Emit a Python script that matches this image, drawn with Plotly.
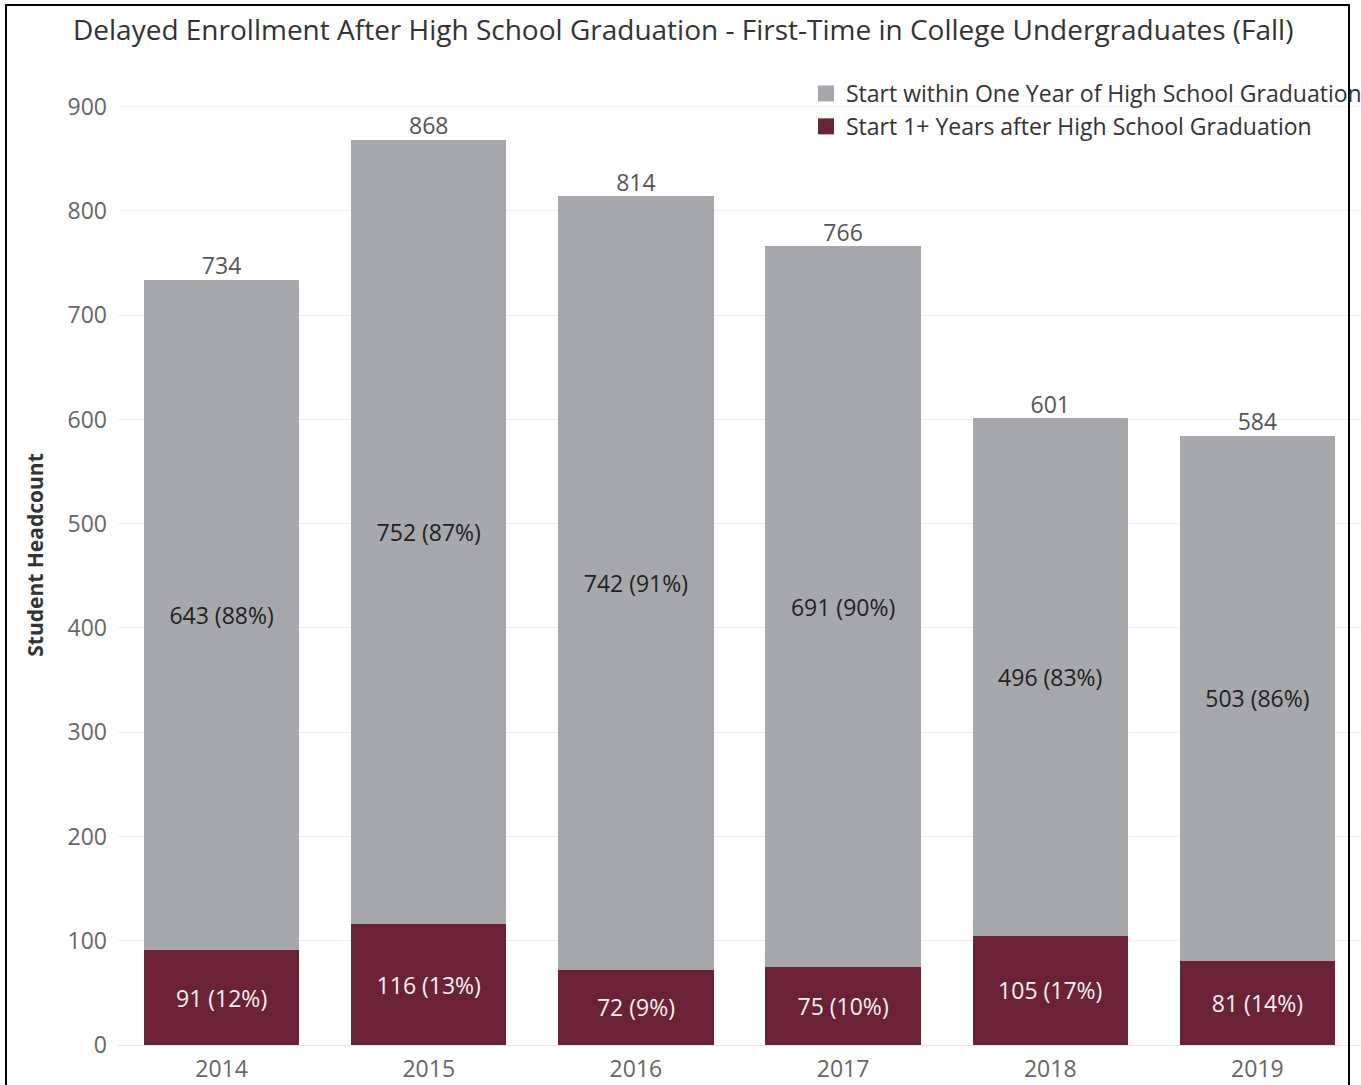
import plotly.graph_objects as go

# ---- data ----
years = ["2014", "2015", "2016", "2017", "2018", "2019"]
within_one_year = [643, 752, 742, 691, 496, 503]
after_one_year = [91, 116, 72, 75, 105, 81]
y_ticks = [0, 100, 200, 300, 400, 500, 600, 700, 800, 900]

title_text = "Delayed Enrollment After High School Graduation - First-Time in College Undergraduates (Fall)"
name_within = "Start within One Year of High School Graduation"
name_after = "Start 1+ Years after High School Graduation"

totals = [a + b for a, b in zip(within_one_year, after_one_year)]
within_labels = [f"{v} ({round(100 * v / t)}%)" for v, t in zip(within_one_year, totals)]
after_labels = [f"{v} ({round(100 * v / t)}%)" for v, t in zip(after_one_year, totals)]

# ---- style ----
FONT = "Open Sans"
GRAY = "#a7a8ab"
MAROON = "#6c2236"
W, H = 1361, 1085
ML, MR, MT, MB = 118, 0, 65, 40

fig = go.Figure()
fig.add_trace(go.Bar(
    x=years, y=after_one_year, name=name_after,
    marker=dict(color=MAROON, line=dict(width=0)),
    text=after_labels, textposition="inside", insidetextanchor="middle",
    textangle=0, constraintext="none",
    insidetextfont=dict(family=FONT, size=23, color="#f2f2f2"),
    hoverinfo="skip", showlegend=False,
))
fig.add_trace(go.Bar(
    x=years, y=within_one_year, name=name_within,
    marker=dict(color=GRAY, line=dict(width=0)),
    text=within_labels, textposition="inside", insidetextanchor="middle",
    textangle=0, constraintext="none",
    insidetextfont=dict(family=FONT, size=23, color="#222222"),
    hoverinfo="skip", showlegend=False,
))
fig.add_trace(go.Scatter(
    x=years, y=totals, mode="text", text=[str(t) for t in totals],
    textposition="top center",
    textfont=dict(family=FONT, size=23, color="#555555"),
    showlegend=False, hoverinfo="skip",
))
# legend entries (square swatches)
fig.add_trace(go.Scatter(
    x=[None], y=[None], mode="markers", name=name_within,
    marker=dict(symbol="square", size=18, color=GRAY), legendrank=1,
))
fig.add_trace(go.Scatter(
    x=[None], y=[None], mode="markers", name=name_after,
    marker=dict(symbol="square", size=18, color=MAROON), legendrank=2,
))

pw = W - ML - MR
ph = H - MT - MB
def px_x(p):
    return (p - ML) / pw
def px_y(p):
    return (H - MB - p) / ph

fig.update_layout(
    width=W, height=H,
    margin=dict(l=ML, r=MR, t=MT, b=MB, autoexpand=False),
    paper_bgcolor="white", plot_bgcolor="white",
    barmode="stack", bargap=0.25,
    font=dict(family=FONT, color="#555555"),
    title=dict(text=title_text, x=0.502, xref="container", xanchor="center",
               y=1 - 30 / H, yref="container", yanchor="middle",
               font=dict(family=FONT, size=28, color="#333333")),
    legend=dict(x=px_x(806), y=px_y(72), xanchor="left", yanchor="top",
                traceorder="normal", bgcolor="rgba(0,0,0,0)",
                font=dict(family=FONT, size=23, color="#333333"),
                itemwidth=30, tracegroupgap=0),
    xaxis=dict(showgrid=False, showline=False, ticks="", ticklabelstandoff=8,
               tickfont=dict(family=FONT, size=23, color="#666666")),
    yaxis=dict(range=[0, 940], tickvals=y_ticks, showgrid=True,
               gridcolor="#efefef", gridwidth=1, zeroline=True,
               zerolinecolor="#e6e6e6", zerolinewidth=1, showline=False,
               ticks="", ticklabelstandoff=10,
               tickfont=dict(family=FONT, size=23, color="#666666"),
               title=dict(text="<b>Student Headcount</b>", standoff=18,
                          font=dict(family=FONT, size=21, color="#333333"))),
    shapes=[dict(type="rect", xref="paper", yref="paper",
                 x0=px_x(6), x1=px_x(1349), y0=px_y(1095), y1=px_y(5),
                 line=dict(color="black", width=2), fillcolor="rgba(0,0,0,0)",
                 layer="above")],
)

fig.write_html("out.html")
